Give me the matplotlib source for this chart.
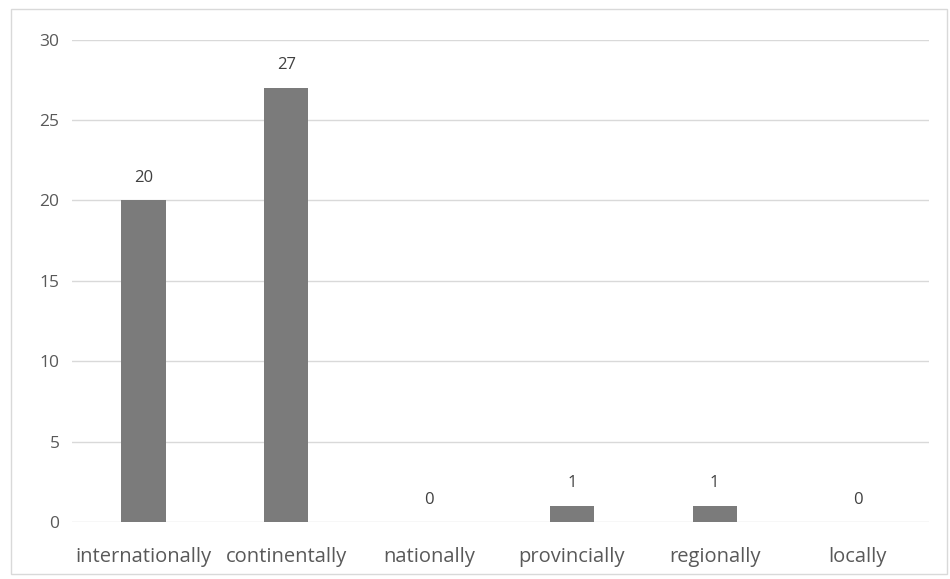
import matplotlib.pyplot as plt
from matplotlib.patches import Rectangle

categories = ['internationally', 'continentally', 'nationally',
              'provincially', 'regionally', 'locally']
counts = [20, 27, 0, 1, 1, 0]
yticks = [0, 5, 10, 15, 20, 25, 30]

plt.rcParams['font.family'] = ['Open Sans', 'DejaVu Sans']

fig = plt.figure(figsize=(9.5, 5.79), dpi=100)
ax = fig.add_axes([0.0758, 0.0984, 0.902, 0.833])

x = range(len(categories))
bars = ax.bar(x, counts, width=0.31, color='#7b7b7b', zorder=3)

for b, v in zip(bars, counts):
    ax.text(b.get_x() + b.get_width() / 2, v + 1.4, str(v),
            ha='center', va='center', fontsize=12, color='#404040')

ax.set_ylim(0, 30)
ax.set_xlim(-0.5, len(categories) - 0.5)
ax.set_yticks(yticks)
ax.set_yticklabels([str(t) for t in yticks], fontsize=12.5, color='#595959')
ax.set_xticks(list(x))
ax.set_xticklabels(categories, fontsize=14.5, color='#595959')
ax.tick_params(axis='both', length=0)
ax.tick_params(axis='y', pad=9)
ax.tick_params(axis='x', pad=18)
ax.yaxis.grid(True, color='#d9d9d9', lw=1, zorder=0)
for s in ax.spines.values():
    s.set_visible(False)

# outer frame round the chart
fig.patches.append(Rectangle((0.012, 0.008), 0.985, 0.976, transform=fig.transFigure,
                             fill=False, edgecolor='#d9d9d9', lw=1))

fig.savefig('out.png', dpi=100)
